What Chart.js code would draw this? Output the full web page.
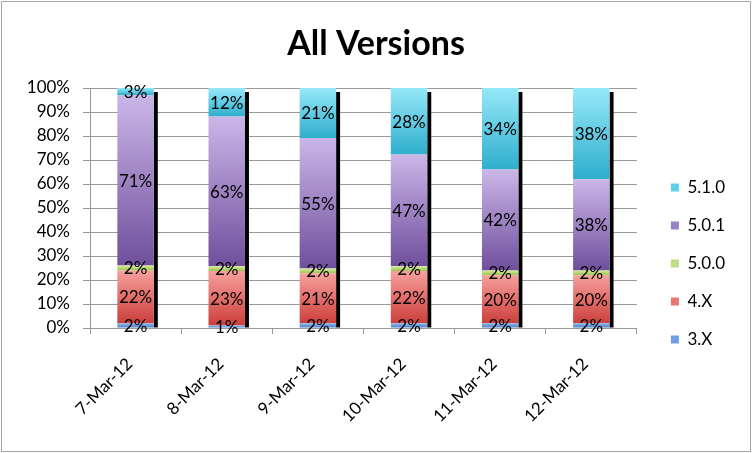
<!DOCTYPE html>
<html>
<head>
<meta charset="utf-8">
<script src="https://cdn.jsdelivr.net/npm/chart.js@4"></script>
<style>
  body { margin: 0; background: #fff; }
  #wrap { width: 752px; height: 453px; }
</style>
</head>
<body>
<div id="wrap"><canvas id="myChart" width="752" height="453"></canvas></div>
<script>
// chart data (percent of each day, as printed on the chart)
var days = ['7-Mar-12', '8-Mar-12', '9-Mar-12', '10-Mar-12', '11-Mar-12', '12-Mar-12'];
var v3x  = [2, 1, 2, 2, 2, 2];
var v4x  = [22, 23, 21, 22, 20, 20];
var v500 = [2, 2, 2, 2, 2, 2];
var v501 = [71, 63, 55, 47, 42, 38];
var v510 = [3, 12, 21, 28, 34, 38];
var yTicks = [0, 10, 20, 30, 40, 50, 60, 70, 80, 90, 100];

var FONT = 'Lato, "Liberation Sans", sans-serif';

// colours: [light top, dark bottom, legend swatch]
var shades = {
    '3.X':   ['#8fb5ea', '#4a7ec4', '#6f9ee0'],
    '4.X':   ['#f7a09d', '#cc3f3b', '#e77773'],
    '5.0.0': ['#d6ec9c', '#9cc24f', '#c0dc84'],
    '5.0.1': ['#cbb6e8', '#6f4f9c', '#9b83c7'],
    '5.1.0': ['#96e8f8', '#2eaecd', '#5cd0e8']
};

var series = [
    { label: '3.X',   data: v3x },
    { label: '4.X',   data: v4x },
    { label: '5.0.0', data: v500 },
    { label: '5.0.1', data: v501 },
    { label: '5.1.0', data: v510 }
];

// totals per day, so the stack is drawn as 100%
var totals = days.map(function (d, i) {
    return series.reduce(function (s, ser) { return s + ser.data[i]; }, 0);
});

function segGradient(ctx, dsIndex) {
    var chart = ctx.chart;
    var cols = shades[series[dsIndex].label];
    if (!chart.chartArea || ctx.dataIndex === undefined) return cols[2];
    var i = ctx.dataIndex;
    var below = 0;
    for (var k = 0; k < dsIndex; k++) below += series[k].data[i];
    var y = chart.scales.y;
    var top = y.getPixelForValue((below + series[dsIndex].data[i]) / totals[i] * 100);
    var bot = y.getPixelForValue(below / totals[i] * 100);
    if (!isFinite(top) || !isFinite(bot) || top === bot) return cols[1];
    var g = chart.ctx.createLinearGradient(0, top, 0, bot);
    g.addColorStop(0, cols[0]);
    g.addColorStop(1, cols[1]);
    return g;
}

var datasets = series.map(function (ser, n) {
    return {
        label: ser.label,
        raw: ser.data,
        data: ser.data.map(function (v, i) { return v / totals[i] * 100; }),
        backgroundColor: function (ctx) { return segGradient(ctx, n); },
        borderWidth: 0,
        barPercentage: 0.4,
        categoryPercentage: 1
    };
});

// black shadow on the right of each column
var shadowPlugin = {
    id: 'shadow',
    beforeDatasetsDraw: function (chart) {
        var ctx = chart.ctx;
        var first = chart.getDatasetMeta(0).data;
        var last = chart.getDatasetMeta(series.length - 1).data;
        ctx.save();
        ctx.fillStyle = '#000';
        first.forEach(function (bar, i) {
            var right = bar.x + bar.width / 2;
            var top = last[i].y;
            ctx.fillRect(right, top + 4, 4, bar.base - top - 4);
        });
        ctx.restore();
    }
};

// value labels in the middle of each segment
var labelPlugin = {
    id: 'segLabels',
    afterDatasetsDraw: function (chart) {
        var ctx = chart.ctx;
        ctx.save();
        ctx.font = '17px ' + FONT;
        ctx.fillStyle = '#000';
        ctx.textAlign = 'center';
        ctx.textBaseline = 'middle';
        chart.data.datasets.forEach(function (ds, n) {
            chart.getDatasetMeta(n).data.forEach(function (bar, i) {
                ctx.fillText(ds.raw[i] + '%', bar.x, (bar.y + bar.base) / 2 + 1);
            });
        });
        ctx.restore();
    }
};

// nudge legend and title into the places they have in the original
var placePlugin = {
    id: 'place',
    afterLayout: function (chart) {
        var lg = chart.legend;
        lg.left += 13; lg.right += 13;
        lg.top += 38; lg.bottom += 38;
        var tb = chart.titleBlock;
        tb.left += 15; tb.right += 15;
    }
};

// thin frame around the whole chart
var framePlugin = {
    id: 'frame',
    afterDraw: function (chart) {
        var ctx = chart.ctx;
        ctx.save();
        ctx.strokeStyle = '#a6a6a6';
        ctx.lineWidth = 1;
        ctx.strokeRect(1.5, 1.5, chart.width - 3, chart.height - 3);
        ctx.restore();
    }
};

var ctx = document.getElementById('myChart').getContext('2d');

var chart = new Chart(ctx, {
    type: 'bar',
    data: {
        labels: days,
        datasets: datasets
    },
    plugins: [shadowPlugin, labelPlugin, placePlugin, framePlugin],
    options: {
        responsive: false,
        animation: false,
        layout: { padding: { top: 10, left: 0, right: 30, bottom: 12 } },
        plugins: {
            title: {
                display: true,
                text: 'All Versions',
                color: '#000',
                font: { family: FONT, size: 34, weight: 'bold' },
                padding: { top: 14, bottom: 23.2 }
            },
            legend: {
                position: 'right',
                reverse: true,
                labels: {
                    color: '#000',
                    font: { family: FONT, size: 17 },
                    boxWidth: 8,
                    boxHeight: 8,
                    padding: 21,
                    generateLabels: function (chart) {
                        return chart.data.datasets.map(function (ds, n) {
                            return {
                                text: ds.label,
                                fillStyle: shades[ds.label][2],
                                strokeStyle: shades[ds.label][2],
                                lineWidth: 0,
                                fontColor: '#000',
                                hidden: false,
                                datasetIndex: n
                            };
                        });
                    }
                }
            },
            tooltip: { enabled: false }
        },
        scales: {
            x: {
                stacked: true,
                grid: { drawOnChartArea: false, color: '#999', tickLength: 6 },
                border: { color: '#999' },
                ticks: {
                    color: '#000',
                    font: { family: FONT, size: 17 },
                    maxRotation: 45,
                    minRotation: 45,
                    padding: 20,
                    labelOffset: -6
                },
                afterFit: function (scale) { scale.height = 113; }
            },
            y: {
                stacked: true,
                min: 0,
                max: 100,
                grid: { color: '#999', tickLength: 7 },
                border: { color: '#999' },
                afterBuildTicks: function (scale) {
                    scale.ticks = yTicks.map(function (v) { return { value: v }; });
                },
                ticks: {
                    color: '#000',
                    font: { family: FONT, size: 17 },
                    padding: 13,
                    callback: function (v) { return v + '%'; }
                },
                afterFit: function (scale) { scale.width = 90; }
            }
        }
    }
});
</script>
</body>
</html>
